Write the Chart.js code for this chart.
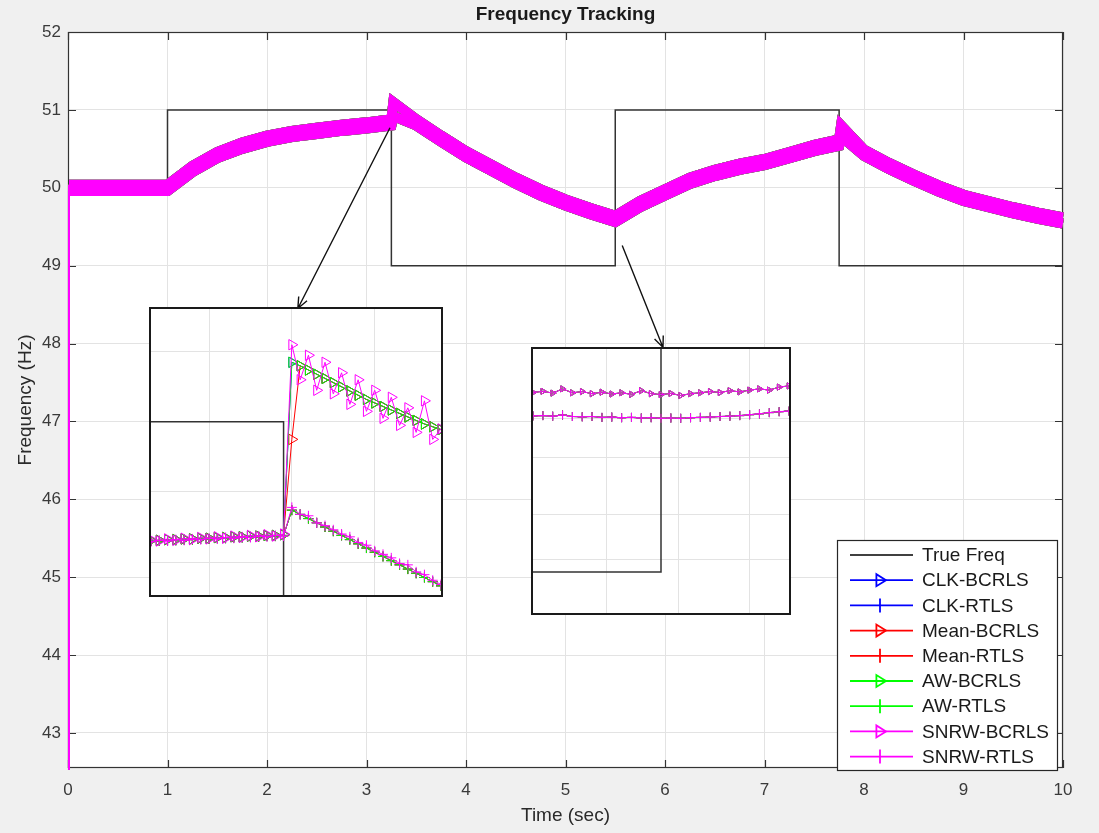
<!DOCTYPE html>
<html>
<head>
<meta charset="utf-8">
<script src="https://cdn.jsdelivr.net/npm/chart.js@4.4.0/dist/chart.umd.min.js"></script>
<style>
  body { margin: 0; background: #f0f0f0; }
  #wrap { position: relative; width: 1099px; height: 833px; }
  canvas { display: block; }
  .inset { position: absolute; background: #fff; border: 2px solid #1a1a1a; box-sizing: border-box; }
  #inset1 { left: 149px; top: 307px; width: 294px; height: 290px; }
  #inset2 { left: 531px; top: 347px; width: 260px; height: 268px; }
</style>
</head>
<body>
<div id="wrap">
  <canvas id="mainChart" width="1099" height="833"></canvas>
  <div class="inset" id="inset1"><canvas id="zoom1" width="290" height="286"></canvas></div>
  <div class="inset" id="inset2"><canvas id="zoom2" width="256" height="264"></canvas></div>
</div>
<script>
// main plot data (time in sec, frequency in Hz)
const trueTime = [0, 1, 1, 3.25, 3.25, 5.5, 5.5, 7.75, 7.75, 10];
const trueFreq = [50, 50, 51, 51, 49, 49, 51, 51, 49, 49];

const mainTime = [0, 0.01, 0.25, 0.5, 0.75, 1.0, 1.25, 1.5, 1.75, 2.0, 2.25, 2.5, 2.75, 3.0, 3.25, 3.27,
  3.5, 3.75, 4.0, 4.25, 4.5, 4.75, 5.0, 5.25, 5.5, 5.75, 6.0, 6.25, 6.5, 6.75, 7.0, 7.25, 7.5, 7.75, 7.77,
  8.0, 8.25, 8.5, 8.75, 9.0, 9.25, 9.5, 9.75, 10];
const bcrlsEst = [0, 50.04, 50.04, 50.04, 50.04, 50.04, 50.28, 50.46, 50.58, 50.67, 50.73, 50.77, 50.81, 50.84, 50.88, 51.10,
  50.88, 50.67, 50.47, 50.30, 50.13, 49.98, 49.85, 49.74, 49.64, 49.83, 49.98, 50.13, 50.23, 50.31, 50.37, 50.46, 50.55, 50.62, 50.80,
  50.49, 50.32, 50.17, 50.03, 49.91, 49.83, 49.75, 49.68, 49.62];
const rtlsEst = [0, 49.96, 49.96, 49.96, 49.96, 49.96, 50.20, 50.38, 50.50, 50.59, 50.65, 50.69, 50.73, 50.76, 50.80, 50.92,
  50.80, 50.59, 50.39, 50.22, 50.05, 49.90, 49.77, 49.66, 49.56, 49.75, 49.90, 50.05, 50.15, 50.23, 50.29, 50.38, 50.47, 50.54, 50.66,
  50.41, 50.24, 50.09, 49.95, 49.83, 49.75, 49.67, 49.60, 49.54];

const xTicks = [0, 1, 2, 3, 4, 5, 6, 7, 8, 9, 10];
const yTicks = [43, 44, 45, 46, 47, 48, 49, 50, 51, 52];

// zoom window 1 (around the step at 3.25 s)
const in1TrueT = [3.09, 3.25, 3.25, 3.44];
const in1TrueF = [51, 51, 49, 49];
const in1T = [3.09, 3.10, 3.11, 3.12, 3.13, 3.14, 3.15, 3.16, 3.17, 3.18, 3.19, 3.20, 3.21, 3.22, 3.23, 3.24, 3.25,
  3.26, 3.27, 3.28, 3.29, 3.30, 3.31, 3.32, 3.33, 3.34, 3.35, 3.36, 3.37, 3.38, 3.39, 3.40, 3.41, 3.42, 3.43, 3.44];
const in1Bcrls = [50.832, 50.830, 50.833, 50.831, 50.834, 50.832, 50.835, 50.833, 50.836, 50.834, 50.837, 50.835, 50.838, 50.836, 50.839, 50.837, 50.840,
  51.110, 51.060, 51.095, 51.045, 51.085, 51.040, 51.070, 51.025, 51.060, 51.015, 51.045, 51.005, 51.035, 50.995, 51.020, 50.985, 51.030, 50.975, 50.990];
const in1BcrlsSmooth = [50.831, 50.831, 50.832, 50.832, 50.833, 50.833, 50.834, 50.834, 50.835, 50.835, 50.836, 50.836, 50.837, 50.837, 50.838, 50.838, 50.839,
  51.085, 51.080, 51.074, 51.068, 51.062, 51.056, 51.050, 51.044, 51.038, 51.032, 51.027, 51.022, 51.017, 51.012, 51.007, 51.002, 50.997, 50.993, 50.989];
const in1MeanBcrls = [50.831, 50.831, 50.832, 50.832, 50.833, 50.833, 50.834, 50.834, 50.835, 50.835, 50.836, 50.836, 50.837, 50.837, 50.838, 50.838, 50.839,
  50.975, 51.080, 51.074, 51.068, 51.062, 51.056, 51.050, 51.044, 51.038, 51.032, 51.027, 51.022, 51.017, 51.012, 51.007, 51.002, 50.997, 50.993, 50.989];
const in1Rtls = [50.829, 50.831, 50.830, 50.832, 50.831, 50.833, 50.832, 50.834, 50.833, 50.835, 50.834, 50.836, 50.835, 50.837, 50.836, 50.838, 50.837,
  50.878, 50.868, 50.866, 50.856, 50.852, 50.846, 50.840, 50.836, 50.828, 50.824, 50.816, 50.811, 50.806, 50.798, 50.796, 50.786, 50.782, 50.774, 50.768];
const in1RtlsSmooth = [50.830, 50.830, 50.831, 50.831, 50.832, 50.832, 50.833, 50.833, 50.834, 50.834, 50.835, 50.835, 50.836, 50.836, 50.837, 50.837, 50.838,
  50.874, 50.868, 50.862, 50.856, 50.850, 50.844, 50.838, 50.832, 50.826, 50.820, 50.814, 50.808, 50.802, 50.796, 50.790, 50.784, 50.778, 50.772, 50.766];
const in1GridX = [3.16, 3.26, 3.36];
const in1GridY = [50.8, 50.9, 51.0, 51.1];

// zoom window 2 (around the step at 5.5 s)
const in2TrueT = [5.37, 5.5, 5.5, 5.63];
const in2TrueF = [49, 49, 51, 51];
const in2T = [5.37, 5.38, 5.39, 5.40, 5.41, 5.42, 5.43, 5.44, 5.45, 5.46, 5.47, 5.48, 5.49, 5.50,
  5.51, 5.52, 5.53, 5.54, 5.55, 5.56, 5.57, 5.58, 5.59, 5.60, 5.61, 5.62, 5.63];
const in2Bcrls = [49.598, 49.602, 49.596, 49.610, 49.597, 49.601, 49.594, 49.599, 49.593, 49.597, 49.592, 49.604, 49.594, 49.591,
  49.595, 49.588, 49.594, 49.597, 49.601, 49.598, 49.604, 49.600, 49.606, 49.610, 49.606, 49.616, 49.620];
const in2Rtls = [49.520, 49.521, 49.519, 49.523, 49.518, 49.517, 49.518, 49.515, 49.516, 49.514, 49.515, 49.513, 49.514, 49.512,
  49.513, 49.512, 49.514, 49.515, 49.516, 49.518, 49.519, 49.521, 49.524, 49.527, 49.531, 49.534, 49.536];
const in2GridX = [5.445, 5.518, 5.59];
const in2GridY = [49.04, 49.19, 49.38, 49.51];

const methods = ['CLK', 'Mean', 'AW', 'SNRW'];
const methodColors = ['#0000ff', '#ff0000', '#00ff00', '#ff00ff'];

const FONT = '"Liberation Sans", Arial, Helvetica, sans-serif';
const pts = (xs, ys) => xs.map((x, i) => ({ x: x, y: ys[i] }));

// ---------- main chart ----------
const mainSets = [{
  label: 'True Freq', data: pts(trueTime, trueFreq),
  borderColor: '#333333', borderWidth: 1.5, pointRadius: 0, order: 20
}];
methods.forEach((m, i) => {
  const thinStart = { borderWidth: ctx => ctx.p0DataIndex === 0 ? 2 : undefined };
  mainSets.push({
    label: m + '-BCRLS', data: pts(mainTime, bcrlsEst), borderColor: methodColors[i],
    borderWidth: 10, pointRadius: 0, order: 10 - 2 * i, segment: thinStart, clip: 2
  });
  mainSets.push({
    label: m + '-RTLS', data: pts(mainTime, rtlsEst), borderColor: methodColors[i],
    borderWidth: 10, pointRadius: 0, order: 9 - 2 * i, segment: thinStart, clip: 2
  });
});

const arrows = [
  { from: [3.236, 50.77], to: [2.31, 48.45] },
  { from: [5.57, 49.26], to: [5.98, 47.95] }
];

function drawTri(ctx, x, y, s) {
  ctx.beginPath();
  ctx.moveTo(x - s * 0.6, y - s);
  ctx.lineTo(x - s * 0.6, y + s);
  ctx.lineTo(x + s, y);
  ctx.closePath();
  ctx.stroke();
}

const decor = {
  id: 'decor',
  beforeDraw(chart) {
    const { ctx, chartArea: a } = chart;
    ctx.save();
    ctx.fillStyle = '#ffffff';
    ctx.fillRect(a.left, a.top, a.right - a.left, a.bottom - a.top);
    ctx.restore();
  },
  beforeDatasetsDraw(chart) {
    const { ctx, chartArea: a, scales: { x, y } } = chart;
    ctx.save();
    // axes box + inward ticks
    ctx.strokeStyle = '#333';
    ctx.lineWidth = 1.2;
    ctx.strokeRect(a.left + 0.5, a.top + 0.5, a.right - a.left - 1, a.bottom - a.top - 1);
    ctx.beginPath();
    xTicks.forEach(v => {
      const px = Math.round(x.getPixelForValue(v)) + 0.5;
      ctx.moveTo(px, a.bottom); ctx.lineTo(px, a.bottom - 8);
      ctx.moveTo(px, a.top); ctx.lineTo(px, a.top + 8);
    });
    yTicks.forEach(v => {
      const py = Math.round(y.getPixelForValue(v)) + 0.5;
      ctx.moveTo(a.left, py); ctx.lineTo(a.left + 8, py);
      ctx.moveTo(a.right, py); ctx.lineTo(a.right - 8, py);
    });
    ctx.stroke();
    ctx.restore();
  },
  afterDatasetsDraw(chart) {
    const { ctx, chartArea: a, scales: { x, y } } = chart;
    ctx.save();
    // arrows
    ctx.strokeStyle = '#111';
    ctx.lineWidth = 1.4;
    arrows.forEach(ar => {
      const x0 = x.getPixelForValue(ar.from[0]), y0 = y.getPixelForValue(ar.from[1]);
      const x1 = x.getPixelForValue(ar.to[0]), y1 = y.getPixelForValue(ar.to[1]);
      const ang = Math.atan2(y1 - y0, x1 - x0);
      ctx.beginPath();
      ctx.moveTo(x0, y0); ctx.lineTo(x1, y1);
      ctx.moveTo(x1 - 12 * Math.cos(ang - 0.4), y1 - 12 * Math.sin(ang - 0.4));
      ctx.lineTo(x1, y1);
      ctx.lineTo(x1 - 12 * Math.cos(ang + 0.4), y1 - 12 * Math.sin(ang + 0.4));
      ctx.stroke();
    });

    // title
    ctx.fillStyle = '#1a1a1a';
    ctx.font = 'bold 19px ' + FONT;
    ctx.textAlign = 'center';
    ctx.textBaseline = 'middle';
    ctx.fillText('Frequency Tracking', (a.left + a.right) / 2, 15);
    ctx.restore();
  },
  afterDraw(chart) {
    const ctx = chart.ctx;
    ctx.save();
    // legend box
    ctx.fillStyle = '#fff';
    ctx.fillRect(837, 540, 221, 231);
    ctx.strokeStyle = '#262626';
    ctx.lineWidth = 1.2;
    ctx.strokeRect(837.5, 540.5, 220, 230);
    const items = [{ label: 'True Freq', color: '#000', mk: null }];
    methods.forEach((m, i) => {
      items.push({ label: m + '-BCRLS', color: methodColors[i], mk: 'tri' });
      items.push({ label: m + '-RTLS', color: methodColors[i], mk: 'plus' });
    });
    ctx.font = '19px ' + FONT;
    ctx.textAlign = 'left';
    ctx.textBaseline = 'middle';
    items.forEach((it, i) => {
      const ry = 555 + i * 25.2;
      ctx.strokeStyle = it.color;
      ctx.lineWidth = it.mk ? 1.8 : 1.3;
      ctx.beginPath();
      ctx.moveTo(850, ry); ctx.lineTo(913, ry);
      ctx.stroke();
      if (it.mk === 'tri') {
        drawTri(ctx, 880, ry, 6);
      } else if (it.mk === 'plus') {
        ctx.beginPath();
        ctx.moveTo(880, ry - 7); ctx.lineTo(880, ry + 7);
        ctx.stroke();
      }
      ctx.fillStyle = '#1a1a1a';
      ctx.fillText(it.label, 922, ry + 1);
    });
    ctx.restore();
  }
};

new Chart(document.getElementById('mainChart'), {
  type: 'line',
  data: { datasets: mainSets },
  options: {
    responsive: false,
    animation: false,
    events: [],
    devicePixelRatio: 1,
    layout: { autoPadding: false, padding: { top: 32, right: 36, left: 0, bottom: 0 } },
    plugins: { legend: { display: false }, tooltip: { enabled: false } },
    scales: {
      x: {
        type: 'linear', min: 0, max: 10,
        ticks: { stepSize: 1, color: '#3a3a3a', font: { family: FONT, size: 17 }, padding: 12, maxRotation: 0 },
        grid: { color: '#e3e3e3', drawTicks: false },
        border: { display: false },
        title: { display: true, text: 'Time (sec)', color: '#2a2a2a', font: { family: FONT, size: 19 }, padding: { top: 0, bottom: 6 } },
        afterFit: s => { s.height = 65; }
      },
      y: {
        type: 'linear', min: 42.55, max: 52,
        ticks: { stepSize: 1, includeBounds: false, color: '#3a3a3a', font: { family: FONT, size: 17 }, padding: 7 },
        grid: { color: '#e3e3e3', drawTicks: false },
        border: { display: false },
        title: { display: true, text: 'Frequency (Hz)', color: '#2a2a2a', font: { family: FONT, size: 19 }, padding: { top: 14, bottom: 0 } },
        afterFit: s => { s.width = 68; }
      }
    }
  },
  plugins: [decor]
});

// ---------- zoom insets ----------
function insetChart(id, xr, yr, gx, gy, sets) {
  return new Chart(document.getElementById(id), {
    type: 'line',
    data: { datasets: sets },
    options: {
      responsive: false,
      animation: false,
      events: [],
      devicePixelRatio: 1,
      layout: { autoPadding: false, padding: 0 },
      plugins: { legend: { display: false }, tooltip: { enabled: false } },
      scales: {
        x: {
          type: 'linear', min: xr[0], max: xr[1],
          ticks: { display: false }, border: { display: false },
          grid: { color: '#e3e3e3', drawTicks: false },
          afterBuildTicks: s => { s.ticks = gx.map(v => ({ value: v })); },
          afterFit: s => { s.height = 0; }
        },
        y: {
          type: 'linear', min: yr[0], max: yr[1],
          ticks: { display: false }, border: { display: false },
          grid: { color: '#e3e3e3', drawTicks: false },
          afterBuildTicks: s => { s.ticks = gy.map(v => ({ value: v })); },
          afterFit: s => { s.width = 0; }
        }
      }
    }
  });
}

function estSet(label, color, xs, ys, mk, r, order) {
  return {
    label: label, data: pts(xs, ys), borderColor: color, borderWidth: 1,
    pointStyle: mk === 'tri' ? 'triangle' : 'cross', rotation: mk === 'tri' ? 90 : 0,
    pointRadius: r, pointBorderColor: color, pointBackgroundColor: 'rgba(0,0,0,0)',
    pointBorderWidth: 1, order: order
  };
}

const in1Sets = [{ label: 'True Freq', data: pts(in1TrueT, in1TrueF), borderColor: '#333333', borderWidth: 1.5, pointRadius: 0, order: 20 }];
methods.forEach((m, i) => {
  const b = m === 'SNRW' ? in1Bcrls : (m === 'Mean' ? in1MeanBcrls : in1BcrlsSmooth);
  const r = m === 'SNRW' ? in1Rtls : in1RtlsSmooth;
  in1Sets.push(estSet(m + '-BCRLS', methodColors[i], in1T, b, 'tri', 6, 10 - 2 * i));
  in1Sets.push(estSet(m + '-RTLS', methodColors[i], in1T, r, 'plus', 5, 9 - 2 * i));
});
insetChart('zoom1', [3.09, 3.44], [50.753, 51.161], in1GridX, in1GridY, in1Sets);

const in2Sets = [{ label: 'True Freq', data: pts(in2TrueT, in2TrueF), borderColor: '#333333', borderWidth: 1.5, pointRadius: 0, order: 20 }];
methods.forEach((m, i) => {
  in2Sets.push(estSet(m + '-BCRLS', methodColors[i], in2T, in2Bcrls, 'tri', 3.5, 10 - 2 * i));
  in2Sets.push(estSet(m + '-RTLS', methodColors[i], in2T, in2Rtls, 'plus', 4.5, 9 - 2 * i));
});
insetChart('zoom2', [5.37, 5.63], [48.863, 49.743], in2GridX, in2GridY, in2Sets);
</script>
</body>
</html>
